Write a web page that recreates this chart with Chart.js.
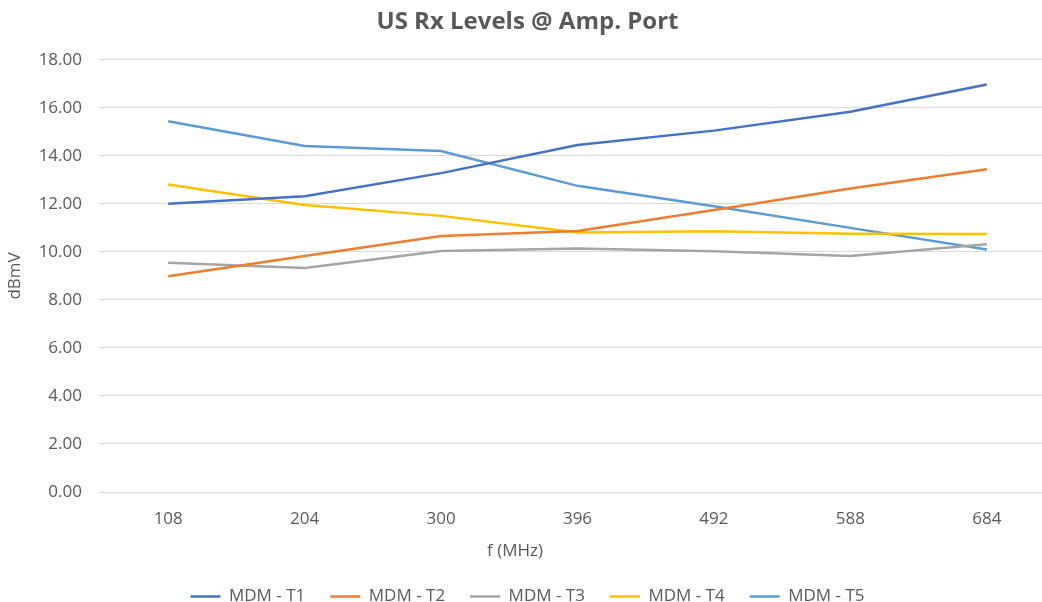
<!DOCTYPE html>
<html>
<head>
<meta charset="utf-8">
<title>US Rx Levels @ Amp. Port</title>
<script src="https://cdn.jsdelivr.net/npm/chart.js@4.4.1/dist/chart.umd.min.js"></script>
<style>
  html, body { margin: 0; padding: 0; background: #fff; overflow: hidden; }
  #wrap { width: 1060px; height: 602px; }
</style>
</head>
<body>
<div id="wrap"><canvas id="rxChart" width="1060" height="602"></canvas></div>
<script>
// frequencies (MHz) on the category axis
const freqs = ['108', '204', '300', '396', '492', '588', '684'];

// Rx levels in dBmV per modem
const mdmT1 = [12.00, 12.32, 13.28, 14.45, 15.05, 15.84, 16.97];
const mdmT2 = [8.99, 9.83, 10.66, 10.87, 11.74, 12.64, 13.44];
const mdmT3 = [9.55, 9.33, 10.04, 10.14, 10.03, 9.83, 10.32];
const mdmT4 = [12.81, 11.95, 11.50, 10.81, 10.86, 10.76, 10.75];
const mdmT5 = [15.44, 14.41, 14.20, 12.75, 11.90, 11.00, 10.10];

const seriesNames = ['MDM - T1', 'MDM - T2', 'MDM - T3', 'MDM - T4', 'MDM - T5'];
const seriesValues = [mdmT1, mdmT2, mdmT3, mdmT4, mdmT5];
const seriesColors = ['#4472C4', '#ED7D31', '#A5A5A5', '#FFC000', '#5B9BD5'];

const textColor = '#595959';
const gridColor = '#D9D9D9';
const baseFont = { family: "'Open Sans', sans-serif", size: 17 };

// x axis title sits a bit left of the plot centre
const xTitle = { text: 'f (MHz)', x: 515, y: 551 };

const xTitlePlugin = {
  id: 'xTitle',
  afterDraw(chart) {
    const ctx = chart.ctx;
    ctx.save();
    ctx.font = `${baseFont.size}px ${baseFont.family}`;
    ctx.fillStyle = textColor;
    ctx.textAlign = 'center';
    ctx.textBaseline = 'middle';
    ctx.fillText(xTitle.text, xTitle.x, xTitle.y);
    ctx.restore();
  }
};

const datasets = seriesNames.map((name, i) => ({
  label: name,
  data: seriesValues[i],
  borderColor: seriesColors[i],
  backgroundColor: seriesColors[i],
  borderWidth: 2.5,
  pointRadius: 0,
  pointHoverRadius: 0,
  tension: 0,
  fill: false
}));

const ctx = document.getElementById('rxChart').getContext('2d');
new Chart(ctx, {
  type: 'line',
  data: { labels: freqs, datasets },
  plugins: [xTitlePlugin],
  options: {
    responsive: false,
    animation: false,
    layout: { padding: { left: 0, right: 5, top: 0, bottom: -13 } },
    plugins: {
      title: {
        display: true,
        text: 'US Rx Levels @ Amp. Port',
        color: textColor,
        font: { family: baseFont.family, size: 24, weight: 'bold' },
        padding: { top: 8, bottom: 23 }
      },
      legend: {
        position: 'bottom',
        labels: {
          color: textColor,
          font: baseFont,
          usePointStyle: true,
          pointStyle: 'line',
          pointStyleWidth: 30,
          padding: 25
        }
      },
      tooltip: { enabled: false }
    },
    scales: {
      x: {
        offset: true,
        grid: { display: false },
        border: { display: false },
        ticks: { color: textColor, font: baseFont, padding: 9 },
        afterFit(scale) { scale.height = 71; }
      },
      y: {
        min: 0,
        max: 18,
        ticks: {
          stepSize: 2,
          color: textColor,
          font: baseFont,
          padding: 18,
          callback: v => v.toFixed(2)
        },
        grid: { color: gridColor, lineWidth: 1, drawTicks: false },
        border: { display: false },
        title: {
          display: true,
          text: 'dBmV',
          color: textColor,
          font: baseFont,
          padding: { top: 5, bottom: 0 }
        },
        afterFit(scale) { scale.width = 100; }
      }
    }
  }
});
</script>
</body>
</html>
